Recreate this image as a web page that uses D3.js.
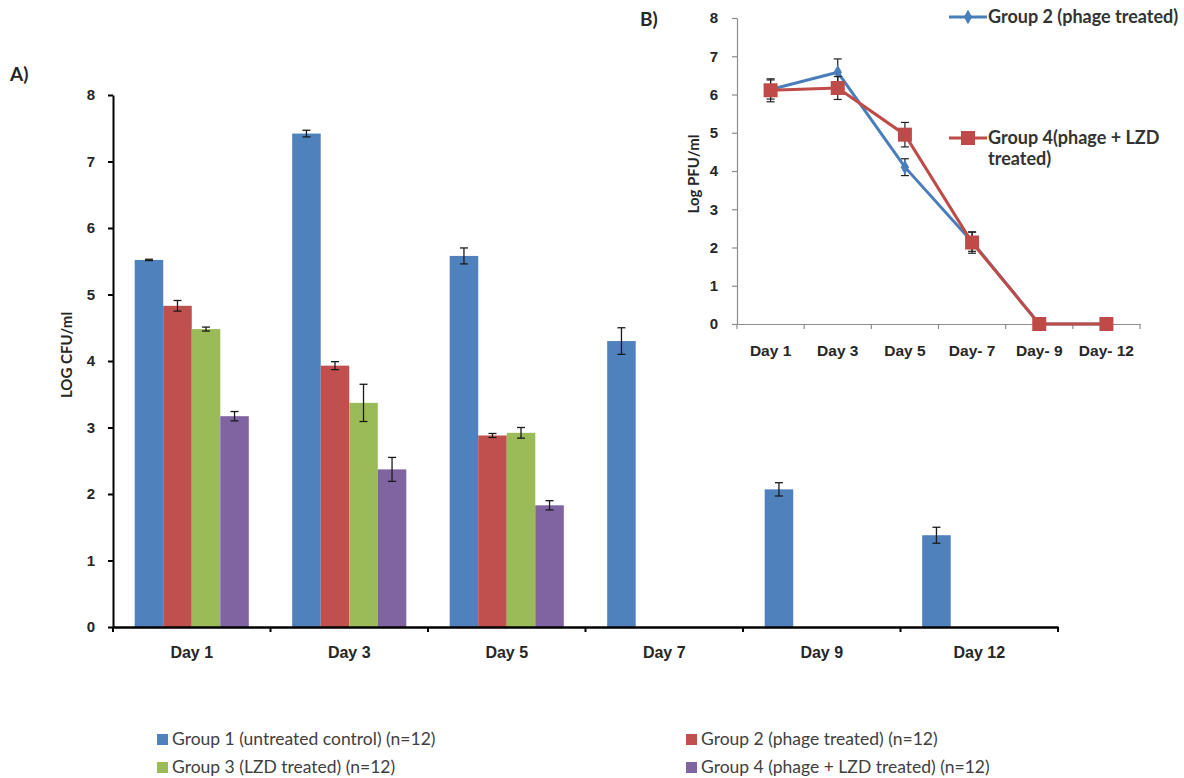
<!DOCTYPE html>
<html>
<head>
<meta charset="utf-8">
<script src="https://cdn.jsdelivr.net/npm/d3@7"></script>
<style>
  body { margin: 0; background: #fff; }
  svg { display: block; font-family: Lato, "Open Sans", "DejaVu Sans", sans-serif; }
</style>
</head>
<body>
<div class="chart-container"></div>
<script>
// ---- panel A data (bar chart, LOG CFU/ml) ----
const daysA = ["Day 1", "Day 3", "Day 5", "Day 7", "Day 9", "Day 12"];
const groupNames = [
  "Group 1 (untreated control) (n=12)",
  "Group 2 (phage treated) (n=12)",
  "Group 3 (LZD treated) (n=12)",
  "Group 4 (phage + LZD treated) (n=12)"
];
const group1 = [5.52, 7.42, 5.58, 4.30, 2.07, 1.38];
const group2 = [4.83, 3.93, 2.88, 0, 0, 0];
const group3 = [4.48, 3.37, 2.92, 0, 0, 0];
const group4 = [3.17, 2.37, 1.83, 0, 0, 0];
const group1Err = [0.01, 0.05, 0.12, 0.20, 0.10, 0.12];
const group2Err = [0.08, 0.06, 0.03, 0, 0, 0];
const group3Err = [0.03, 0.28, 0.08, 0, 0, 0];
const group4Err = [0.07, 0.18, 0.07, 0, 0, 0];
const ticksA = [0, 1, 2, 3, 4, 5, 6, 7, 8];

// ---- panel B data (line chart, Log PFU/ml) ----
const daysB = ["Day 1", "Day 3", "Day 5", "Day- 7", "Day- 9", "Day- 12"];
const lineNames = ["Group 2 (phage treated)", "Group 4(phage + LZD", "treated)"];
const phage = [6.13, 6.58, 4.10, 2.15, 0, 0];
const phageErr = [0.25, 0.35, 0.22, 0.25, 0, 0];
const phageLzd = [6.11, 6.17, 4.95, 2.13, 0, 0];
const phageLzdErr = [0.30, 0.30, 0.32, 0.28, 0, 0];
const ticksB = [0, 1, 2, 3, 4, 5, 6, 7, 8];

const barColors = ["#4f81bd", "#c0504d", "#9bbb59", "#8064a2"];
const lineColors = ["#4a7ebb", "#be4b48"];
const textColor = "#262626";

const svg = d3.select(".chart-container").append("svg")
  .attr("width", 1184).attr("height", 778);

/* ================= Panel A ================= */
const xA = d3.scaleBand().domain(daysA).range([113, 1058]).padding(0);
const subA = d3.scaleBand().domain(d3.range(4)).range([0, xA.bandwidth()])
  .paddingInner(0).paddingOuter(0.76);
const yA = d3.scaleLinear().domain([0, 8]).range([627, 95]);

const seriesA = [group1, group2, group3, group4];
const errA = [group1Err, group2Err, group3Err, group4Err];

svg.append("text").attr("x", 10).attr("y", 81)
  .style("font-weight", "bold").style("font-size", "19px").attr("fill", textColor).text("A)");

const barsA = svg.append("g");
seriesA.forEach((vals, gi) => {
  vals.forEach((v, di) => {
    if (v <= 0) return;
    const bx = xA(daysA[di]) + subA(gi);
    barsA.append("rect")
      .attr("x", bx).attr("width", subA.bandwidth())
      .attr("y", yA(v)).attr("height", yA(0) - yA(v))
      .attr("fill", barColors[gi]);
    const e = errA[gi][di];
    const cx = bx + subA.bandwidth() / 2;
    const eb = barsA.append("g").attr("stroke", "#1a1a1a").attr("stroke-width", 1.3);
    eb.append("line").attr("x1", cx).attr("x2", cx).attr("y1", yA(v + e)).attr("y2", yA(v - e));
    eb.append("line").attr("x1", cx - 4).attr("x2", cx + 4).attr("y1", yA(v + e)).attr("y2", yA(v + e));
    eb.append("line").attr("x1", cx - 4).attr("x2", cx + 4).attr("y1", yA(v - e)).attr("y2", yA(v - e));
  });
});

// y axis A
const yAxisA = svg.append("g").attr("transform", "translate(113,0)")
  .call(d3.axisLeft(yA).tickValues(ticksA).tickSize(5).tickSizeOuter(0).tickFormat(d3.format("d")));
yAxisA.select(".domain").attr("stroke", "#000").attr("stroke-width", 2);
yAxisA.selectAll(".tick line").attr("stroke", "#000").attr("stroke-width", 2);
yAxisA.selectAll("text").attr("x", -18).style("font-size", "15px").style("font-weight", "bold")
  .attr("fill", textColor);

// x axis A
const xAxisA = svg.append("g").attr("transform", "translate(0,627)")
  .call(d3.axisBottom(xA).tickSize(0).tickSizeOuter(0));
xAxisA.select(".domain").attr("stroke", "#000").attr("stroke-width", 2.5);
xAxisA.selectAll("text").attr("y", 31).attr("dy", 0).style("font-size", "16px").style("font-weight", "bold")
  .attr("fill", textColor);
// category divider ticks
xAxisA.selectAll(".divA").data(daysA.concat(["end"])).enter().append("line")
  .attr("x1", (d, i) => i < daysA.length ? xA(d) : 1058)
  .attr("x2", (d, i) => i < daysA.length ? xA(d) : 1058)
  .attr("y1", 0).attr("y2", 5).attr("stroke", "#000").attr("stroke-width", 2);

svg.append("text")
  .attr("transform", "translate(72,355) rotate(-90)")
  .attr("text-anchor", "middle")
  .style("font-size", "15px").style("font-weight", "bold").attr("fill", textColor)
  .text("LOG CFU/ml");

// legend A
const legA = svg.append("g").style("font-size", "17.5px");
const legPos = [[157, 739], [686, 739], [157, 767], [686, 767]];
groupNames.forEach((name, i) => {
  const [lx, ly] = legPos[i];
  legA.append("rect").attr("x", lx).attr("y", ly - 5).attr("width", 11).attr("height", 11)
    .attr("fill", barColors[i]);
  legA.append("text").attr("x", lx + 15).attr("y", ly + 6).attr("fill", "#404040").text(name);
});

/* ================= Panel B ================= */
const xB = d3.scaleBand().domain(daysB).range([737, 1140]).padding(0);
const yB = d3.scaleLinear().domain([0, 8]).range([324, 18]);

svg.append("text").attr("x", 640).attr("y", 26)
  .style("font-weight", "bold").style("font-size", "19px").attr("fill", textColor).text("B)");

const yAxisB = svg.append("g").attr("transform", "translate(737,0)")
  .call(d3.axisLeft(yB).tickValues(ticksB).tickSize(5).tickSizeOuter(0).tickFormat(d3.format("d")));
yAxisB.select(".domain").attr("stroke", "#8c8c8c").attr("stroke-width", 1.2);
yAxisB.selectAll(".tick line").attr("stroke", "#8c8c8c").attr("stroke-width", 1.2);
yAxisB.selectAll("text").attr("x", -19).style("font-size", "15px").style("font-weight", "bold")
  .attr("fill", textColor);

const xAxisB = svg.append("g").attr("transform", "translate(0,324)")
  .call(d3.axisBottom(xB).tickSize(0).tickSizeOuter(0));
xAxisB.select(".domain").attr("stroke", "#8c8c8c").attr("stroke-width", 1.2);
xAxisB.selectAll("text").attr("y", 32).attr("dy", 0).style("font-size", "15.5px").style("font-weight", "bold")
  .attr("fill", textColor);
xAxisB.selectAll(".divB").data(daysB.concat(["end"])).enter().append("line")
  .attr("x1", (d, i) => i < daysB.length ? xB(d) : 1140)
  .attr("x2", (d, i) => i < daysB.length ? xB(d) : 1140)
  .attr("y1", 0).attr("y2", 5).attr("stroke", "#8c8c8c").attr("stroke-width", 1.2);

svg.append("text")
  .attr("transform", "translate(699,174) rotate(-90)")
  .attr("text-anchor", "middle")
  .style("font-size", "15px").style("font-weight", "bold").attr("fill", textColor)
  .text("Log PFU/ml");

const cxB = d => xB(d) + xB.bandwidth() / 2;
const lineB = d3.line().x((d, i) => cxB(daysB[i])).y(d => yB(d));
const seriesB = [phage, phageLzd];
const errB = [phageErr, phageLzdErr];

seriesB.forEach((vals, si) => {
  const g = svg.append("g");
  g.append("path").datum(vals).attr("d", lineB)
    .attr("fill", "none").attr("stroke", lineColors[si]).attr("stroke-width", 3);
  vals.forEach((v, i) => {
    const cx = cxB(daysB[i]);
    const e = errB[si][i];
    if (e > 0) {
      const eb = g.append("g").attr("stroke", "#222").attr("stroke-width", 1.2);
      eb.append("line").attr("x1", cx).attr("x2", cx).attr("y1", yB(v + e)).attr("y2", yB(v - e));
      eb.append("line").attr("x1", cx - 4).attr("x2", cx + 4).attr("y1", yB(v + e)).attr("y2", yB(v + e));
      eb.append("line").attr("x1", cx - 4).attr("x2", cx + 4).attr("y1", yB(v - e)).attr("y2", yB(v - e));
    }
    if (si === 0) {
      g.append("path").attr("d", d3.symbol(d3.symbolDiamond, 60)())
        .attr("transform", `translate(${cx},${yB(v)})`).attr("fill", lineColors[si]);
    } else {
      g.append("rect").attr("x", cx - 7).attr("y", yB(v) - 7).attr("width", 14).attr("height", 14)
        .attr("fill", lineColors[si]);
    }
  });
});

// legend B
const legB = svg.append("g").style("font-size", "18px").style("font-weight", "bold");
legB.append("line").attr("x1", 949).attr("x2", 987).attr("y1", 17).attr("y2", 17)
  .attr("stroke", lineColors[0]).attr("stroke-width", 3);
legB.append("path").attr("d", d3.symbol(d3.symbolDiamond, 60)())
  .attr("transform", "translate(968,17)").attr("fill", lineColors[0]);
legB.append("text").attr("x", 988).attr("y", 23).attr("fill", "#333").text(lineNames[0]);

legB.append("line").attr("x1", 949).attr("x2", 987).attr("y1", 138).attr("y2", 138)
  .attr("stroke", lineColors[1]).attr("stroke-width", 3);
legB.append("rect").attr("x", 961).attr("y", 131).attr("width", 14).attr("height", 14)
  .attr("fill", lineColors[1]);
legB.append("text").attr("x", 988).attr("y", 144).attr("fill", "#333").text(lineNames[1]);
legB.append("text").attr("x", 988).attr("y", 165).attr("fill", "#333").text(lineNames[2]);
</script>
</body>
</html>
